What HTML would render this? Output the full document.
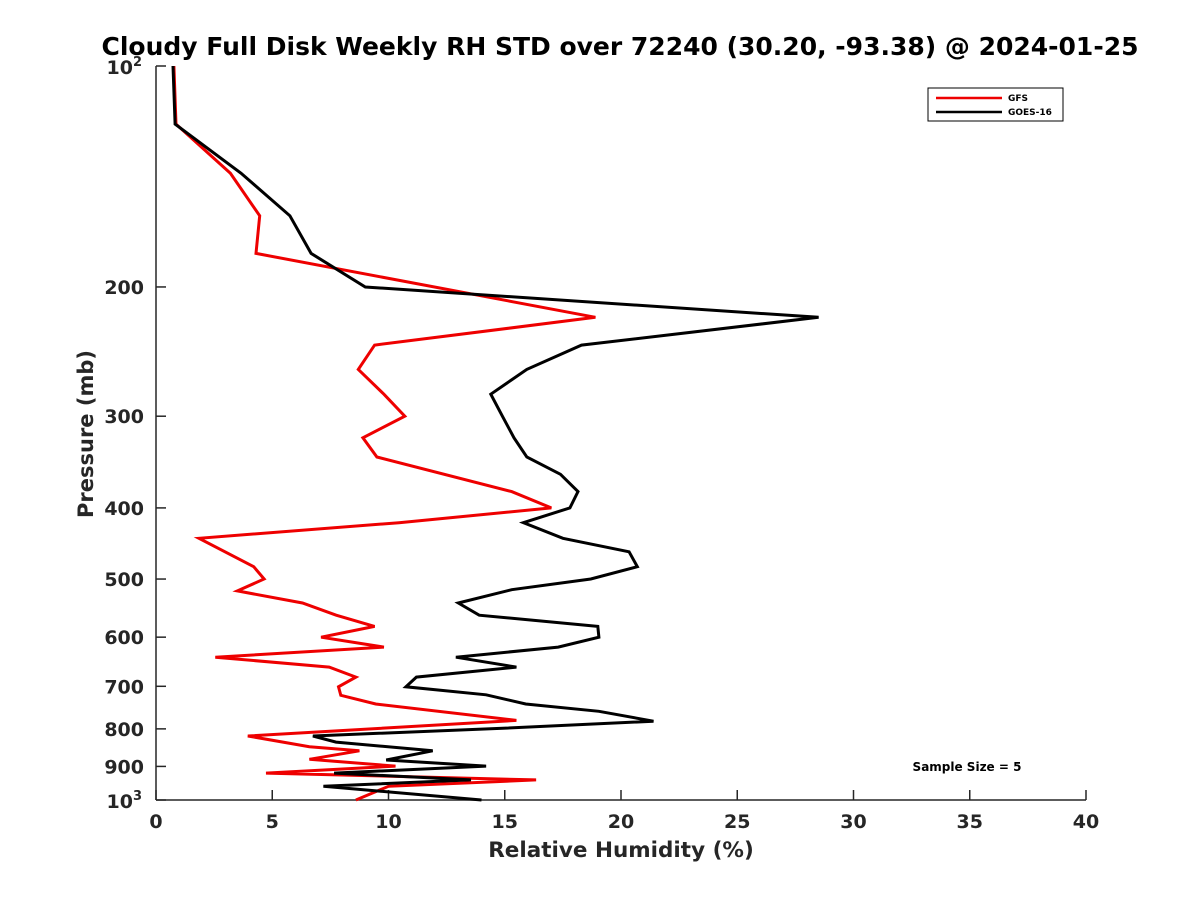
<!DOCTYPE html>
<html><head><meta charset="utf-8"><style>
body{margin:0;background:#fff;}
svg text{font-family:"DejaVu Sans","Liberation Sans",sans-serif;font-weight:bold;fill:#262626;}
</style></head><body>
<svg id="chart" width="1200" height="900" xmlns="http://www.w3.org/2000/svg">
<rect width="1200" height="900" fill="#fff"/>
<text x="620" y="55" text-anchor="middle" font-size="25" style="fill:#000">Cloudy Full Disk Weekly RH STD over 72240 (30.20, -93.38) @ 2024-01-25</text>
<g id="axes"></g>
<g id="series"></g>
<text x="621" y="857" text-anchor="middle" font-size="21.5">Relative Humidity (%)</text>
<text transform="translate(93,434) rotate(-90)" text-anchor="middle" font-size="21">Pressure (mb)</text>
<text x="967" y="771" text-anchor="middle" font-size="12" style="fill:#000">Sample Size = 5</text>
<g>
<rect x="928" y="88" width="135" height="33" fill="#fff" stroke="#000" stroke-width="1"/>
<line x1="936" y1="98" x2="1002" y2="98" stroke="#e00" stroke-width="2.5"/>
<text x="1008" y="101" font-size="9" style="fill:#000">GFS</text>
<line x1="936" y1="112" x2="1002" y2="112" stroke="#000" stroke-width="2.5"/>
<text x="1008" y="115" font-size="9" style="fill:#000">GOES-16</text>
</g>
</svg>
<script>
const xTicks=[0,5,10,15,20,25,30,35,40];
const yTicks=[200,300,400,500,600,700,800,900];
const goesP=[100,120,140,160,180,200,220,240,259,280,300,321,341,360,380,400,419,440,459,481,500,517,539,560,580,600,619,639,659,680,701,719,740,757,781,798,818,834,857,882,899,919,939,958,1000];
const goesRH=[0.73,0.82,3.66,5.76,6.67,9.0,28.5,18.3,15.95,14.4,14.9,15.4,15.95,17.4,18.15,17.8,15.8,17.5,20.35,20.7,18.7,15.3,13.0,13.9,19.0,19.05,17.3,12.9,15.5,11.2,10.75,14.2,15.9,19.05,21.4,15.05,6.75,7.74,11.9,9.9,14.2,7.66,13.55,7.2,14.0];
const gfsP=[100,120,140,160,180,220,240,259,280,300,321,341,380,400,419,440,481,500,519,539,560,580,600,619,639,659,680,701,720,740,779,818,846,857,880,899,919,939,958,1000];
const gfsRH=[0.77,0.86,3.2,4.46,4.3,18.9,9.4,8.7,9.8,10.7,8.9,9.5,15.3,17.0,10.45,1.85,4.2,4.65,3.5,6.3,7.75,9.4,7.1,9.8,2.55,7.45,8.6,7.85,7.95,9.45,15.5,3.95,6.6,8.75,6.6,10.3,4.73,16.35,10.0,8.6];
const NS='http://www.w3.org/2000/svg';
const X0=156,X1=1086,Y0=66,Y1=800;
function xs(v){return X0+(v/40)*(X1-X0);}
function ys(p){return Y0+(Math.log10(p)-2)*(Y1-Y0);}
function mk(t,a,parent){const e=document.createElementNS(NS,t);for(const k in a)e.setAttribute(k,a[k]);parent.appendChild(e);return e;}
const ax=document.getElementById('axes');
const yl=mk('line',{x1:X0,y1:Y0,x2:X0,y2:Y1,stroke:'#262626','stroke-width':1.5},ax);


const xl=mk('line',{x1:X0,y1:Y1,x2:X1,y2:Y1,stroke:'#262626','stroke-width':1.5},ax);


xTicks.forEach(v=>{
 const t=mk('line',{x1:xs(v),y1:Y1,x2:xs(v),y2:Y1-10,stroke:'#262626','stroke-width':1.5},ax);
 
 
 const l=mk('text',{x:xs(v),y:Y1+28,'text-anchor':'middle','font-size':19},ax);l.textContent=v;
 
 
});
yTicks.forEach(p=>{
 const t=mk('line',{x1:X0,y1:ys(p),x2:X0+10,y2:ys(p),stroke:'#262626','stroke-width':1.5},ax);
 
 
 const l=mk('text',{x:X0-12,y:ys(p)+7,'text-anchor':'end','font-size':19},ax);l.textContent=p;
 
 
});
[[100,'2'],[1000,'3']].forEach(([p,e])=>{
 const t=mk('line',{x1:X0,y1:ys(p),x2:X0+10,y2:ys(p),stroke:'#262626','stroke-width':1.5},ax);
 
 
 const l=mk('text',{x:X0-14,y:ys(p)+8,'text-anchor':'end','font-size':19},ax);
 l.innerHTML='10<tspan dy="-8" font-size="13">'+e+'</tspan>';
 
 
});
const sg=document.getElementById('series');
function line(P,V,color,name){
 const d=P.map((p,i)=>(i?'L':'M')+xs(V[i]).toFixed(1)+' '+ys(p).toFixed(1)).join(' ');
 const e=mk('path',{d:d,fill:'none',stroke:color,'stroke-width':3,'stroke-linejoin':'miter'},sg);
 
 
}
line(gfsP,gfsRH,'#e00','gfs-line');
line(goesP,goesRH,'#000','goes-16-line');
</script>
</body></html>
